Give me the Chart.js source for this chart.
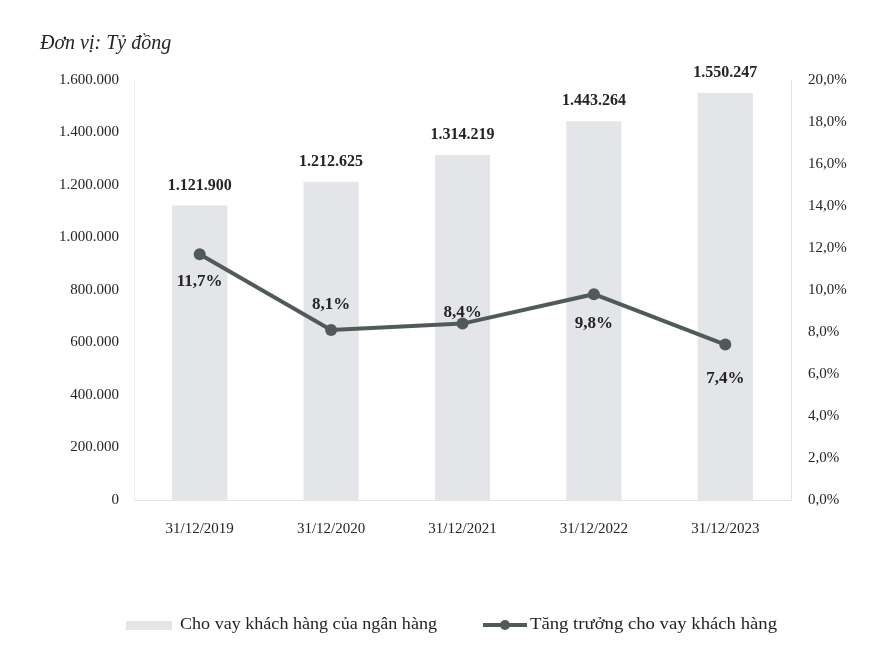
<!DOCTYPE html>
<html>
<head>
<meta charset="utf-8">
<script src="https://cdn.jsdelivr.net/npm/chart.js@4.4.1/dist/chart.umd.min.js"></script>
<style>
  html, body { margin: 0; background: #fff; }
  #wrap { width: 869px; height: 653px; }
</style>
</head>
<body>
<div id="wrap"><canvas id="loanChart" width="869" height="653"></canvas></div>
<script>
const periods = ["31/12/2019", "31/12/2020", "31/12/2021", "31/12/2022", "31/12/2023"];
const loans = [1121900, 1212625, 1314219, 1443264, 1550247];
const growth = [11.7, 8.1, 8.4, 9.8, 7.4];
const loanAxisMax = 1600000;
const loanAxisStep = 200000;
const growthAxisMax = 20;
const growthAxisStep = 2;
const seriesNames = ["Cho vay khách hàng của ngân hàng", "Tăng trưởng cho vay khách hàng"];
const unitText = "Đơn vị: Tỷ đồng";

const SERIF = "'Liberation Serif', 'Times New Roman', serif";
const INK = "#242424";
const BAR = "#e4e5e8";
const LINE = "#505b57";

const fmtThousands = (v) => String(Math.round(v)).replace(/\B(?=(\d{3})+(?!\d))/g, ".");
const fmtPct = (v, digits = 1) => v.toFixed(digits).replace(".", ",") + "%";

// value labels over bars and next to line points, plus unit caption and legend
const annotate = {
  id: "annotate",
  afterDatasetsDraw(chart, args, opts) {
    const ctx = chart.ctx;
    ctx.save();
    ctx.fillStyle = INK;
    ctx.textAlign = "center";
    ctx.textBaseline = "middle";

    ctx.font = `bold 16px ${SERIF}`;
    chart.getDatasetMeta(1).data.forEach((bar, i) => {
      ctx.fillText(fmtThousands(loans[i]), bar.x, bar.y - 20);
    });

    ctx.font = `bold 17px ${SERIF}`;
    chart.getDatasetMeta(0).data.forEach((pt, i) => {
      ctx.fillText(fmtPct(growth[i]), pt.x, pt.y + opts.growthOffsets[i]);
    });

    ctx.textAlign = "left";
    ctx.font = `italic 20px ${SERIF}`;
    ctx.fillText(unitText, 40, 44);

    // legend row
    const ly = 625;
    ctx.fillStyle = BAR;
    ctx.fillRect(126, ly - 4, 46, 9);
    ctx.strokeStyle = LINE;
    ctx.lineWidth = 4;
    ctx.beginPath();
    ctx.moveTo(483, ly);
    ctx.lineTo(527, ly);
    ctx.stroke();
    ctx.fillStyle = LINE;
    ctx.beginPath();
    ctx.arc(505, ly, 5, 0, Math.PI * 2);
    ctx.fill();

    ctx.fillStyle = INK;
    ctx.font = `17px ${SERIF}`;
    const drawNarrow = (text, x, width) => {
      const w = ctx.measureText(text).width;
      ctx.save();
      ctx.translate(x, ly);
      ctx.scale(width / w, 1);
      ctx.fillText(text, 0, 0);
      ctx.restore();
    };
    drawNarrow(seriesNames[0], 180, 257);
    drawNarrow(seriesNames[1], 530, 247);
    ctx.restore();
  }
};

new Chart(document.getElementById("loanChart"), {
  data: {
    labels: periods,
    datasets: [
      {
        type: "line",
        label: seriesNames[1],
        data: growth,
        yAxisID: "yGrowth",
        borderColor: LINE,
        backgroundColor: LINE,
        borderWidth: 4,
        pointRadius: 6,
        pointBackgroundColor: LINE,
        pointBorderWidth: 0,
        tension: 0,
        order: 0
      },
      {
        type: "bar",
        label: seriesNames[0],
        data: loans,
        yAxisID: "yLoans",
        backgroundColor: BAR,
        barPercentage: 0.42,
        categoryPercentage: 1,
        order: 1
      }
    ]
  },
  options: {
    responsive: false,
    animation: false,
    layout: { padding: { top: 80, bottom: 113, left: 0, right: 0 } },
    plugins: {
      legend: { display: false },
      tooltip: { enabled: false },
      annotate: { growthOffsets: [27, -25, -11, 29, 34] }
    },
    scales: {
      x: {
        grid: { display: false },
        border: { color: "#e2e2e2" },
        ticks: { color: INK, font: { family: SERIF, size: 15 }, padding: 12 },
        afterFit: (s) => { s.height = 40; }
      },
      yLoans: {
        position: "left",
        min: 0,
        max: loanAxisMax,
        grid: { display: false },
        border: { color: "#efefef" },
        ticks: {
          stepSize: loanAxisStep,
          color: INK,
          font: { family: SERIF, size: 15 },
          padding: 7,
          callback: (v) => fmtThousands(v)
        },
        afterFit: (s) => { s.width = 134; }
      },
      yGrowth: {
        position: "right",
        min: 0,
        max: growthAxisMax,
        grid: { display: false },
        border: { color: "#e2e2e2" },
        ticks: {
          stepSize: growthAxisStep,
          color: INK,
          font: { family: SERIF, size: 15 },
          padding: 9,
          callback: (v) => fmtPct(v)
        },
        afterFit: (s) => { s.width = 78; }
      }
    }
  },
  plugins: [annotate]
});
</script>
</body>
</html>
